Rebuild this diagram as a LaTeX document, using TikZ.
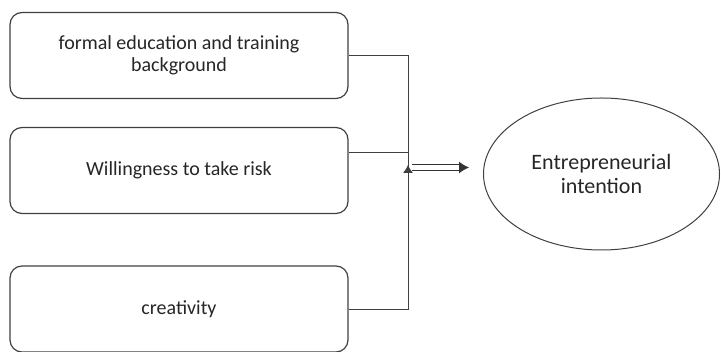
\documentclass[tikz,border=0pt]{standalone}
\usepackage{fontspec}
\setmainfont{Carlito}
\usetikzlibrary{arrows.meta,shapes.geometric}

\begin{document}
\begin{tikzpicture}[x=1pt, y=-1pt, every node/.style={font=\fontsize{20}{22}\selectfont, text=black!85},
    factor/.style={draw=black!75, line width=1.2pt, rounded corners=12pt, minimum width=338pt, minimum height=86pt, align=center},
    link/.style={draw=black!75, line width=0.9pt}]
            \useasboundingbox (0,0) rectangle (721,352);
            \node[factor] (fedu) at (179,55.5) {formal education and training\\background};
            \node[factor] (risk) at (179,170.5) {Willingness to take risk};
            \node[factor] (crea) at (179,309) {creativity};
            \node[ellipse, draw=black!75, line width=1pt, minimum width=236pt, minimum height=152pt, align=center,
                font=\fontsize{22}{24}\selectfont] (intent) at (601.5,174) {Entrepreneurial\\intention};
            \coordinate (bus) at (408,165);
            \coordinate (tip) at (469,167.5);
            \draw[link] (fedu.east) -| (bus);
            \draw[link] ([yshift=18.5pt]risk.east) -| (bus);
            \draw[link] (crea.east) -| (bus);
            \draw[link, -{Latex[length=8pt,width=10pt]}] (408,178) -- (bus);
            \draw[black!80, line width=1pt, double distance=5pt, -{Latex[length=10pt,width=12pt]}] (412,167.5) -- (tip);
        \end{tikzpicture}
\end{document}
